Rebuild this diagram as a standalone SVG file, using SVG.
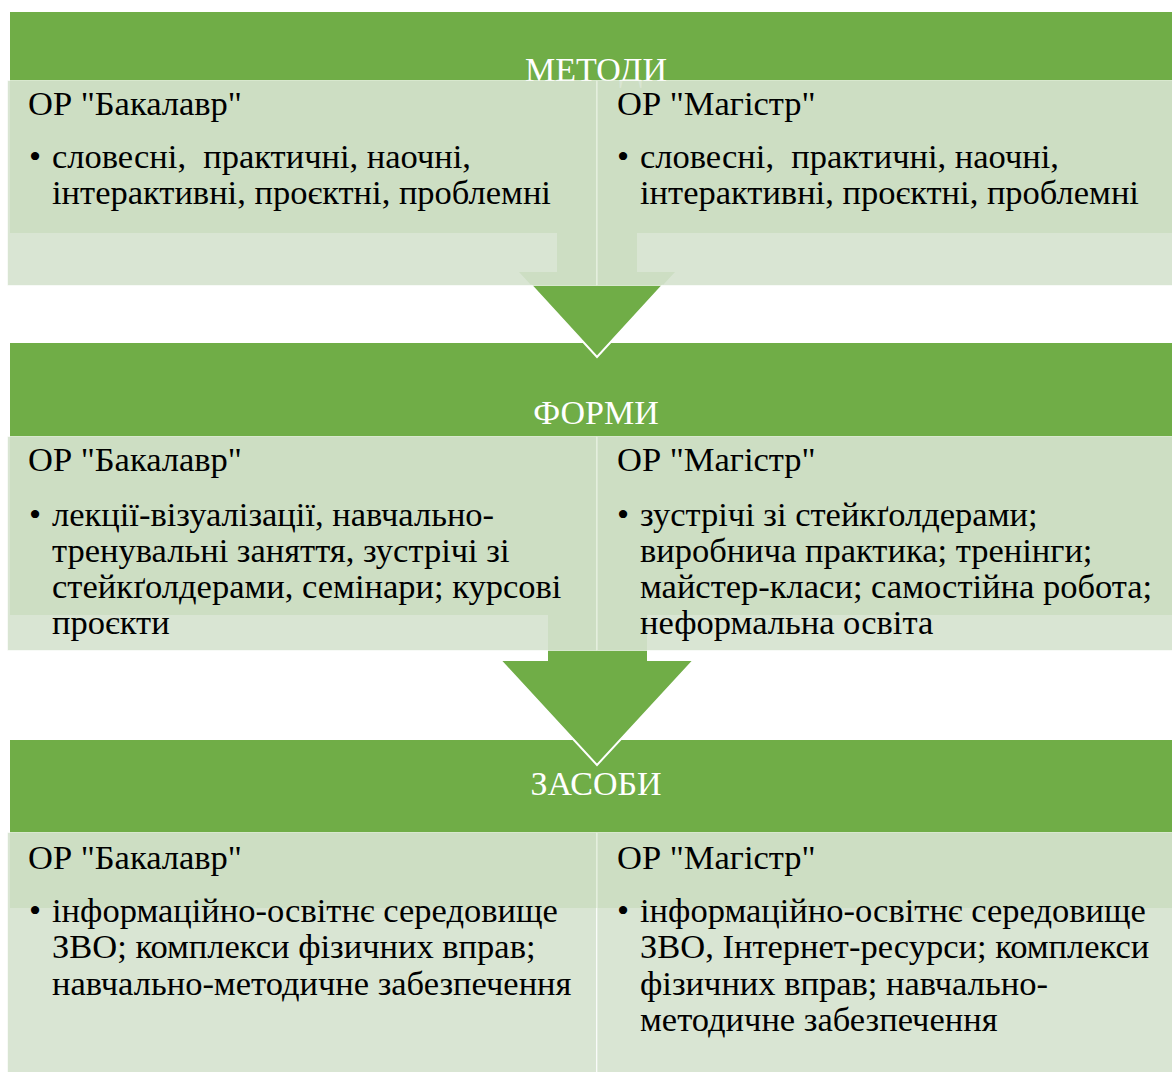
<svg xmlns="http://www.w3.org/2000/svg" width="1172" height="1072" viewBox="0 0 1172 1072">
<style>
.hdr{fill:#70ad47}
.arrow{fill:#70ad47;stroke:none}
.edge{fill:none;stroke:#ffffff;stroke-width:2}
.box{fill:rgb(213,227,207);fill-opacity:0.915;stroke:#ffffff;stroke-opacity:0.6;stroke-width:1}
.title{font-size:34px;fill:#ffffff;text-anchor:middle}
.t{font-size:34.5px;fill:#000000}
</style>
<rect width="1172" height="1072" fill="#ffffff"/>
<g id="headers">
<rect id="h1" class="hdr" x="10" y="12" width="1162" height="221"/>
<rect id="h2" class="hdr" x="10" y="343" width="1162" height="272"/>
<rect id="h3" class="hdr" x="10" y="740" width="1162" height="168"/>
</g>
<g id="connectors">
<polygon class="arrow" points="557,150 637,150 637,272 675,272 597,357 519,272 557,272"/>
<polyline class="edge" points="531,285 597,357 663,285"/>
<polygon class="arrow" points="548,560 647,560 647,661 693,661 597,765 501,661 548,661"/>
<polyline class="edge" points="501,661 597,765 693,661"/>
</g>
<g font-family="'Liberation Serif', 'Times New Roman', serif">
<g id="titles">
<text class="title" x="596" y="81">МЕТОДИ</text>
<text class="title" x="596" y="424">ФОРМИ</text>
<text class="title" x="596" y="795">ЗАСОБИ</text>
</g>
<g id="metody-bak">
<rect class="box" x="7.5" y="80.5" width="589" height="205"/>
<text class="t" x="28" y="115">ОР "Бакалавр"</text>
<text class="t" x="29" y="168">•</text>
<text class="t" x="52" y="168" xml:space="preserve">словесні,  практичні, наочні,</text>
<text class="t" x="52" y="204">інтерактивні, проєктні, проблемні</text>
</g>
<g id="metody-mag">
<rect class="box" x="597" y="80.5" width="580" height="205"/>
<text class="t" x="617" y="115">ОР "Магістр"</text>
<text class="t" x="617" y="168">•</text>
<text class="t" x="640" y="168" xml:space="preserve">словесні,  практичні, наочні,</text>
<text class="t" x="640" y="204">інтерактивні, проєктні, проблемні</text>
</g>
<g id="formy-bak">
<rect class="box" x="7.5" y="436.5" width="589" height="214"/>
<text class="t" x="28" y="471">ОР "Бакалавр"</text>
<text class="t" x="29" y="526">•</text>
<text class="t" x="52" y="526">лекції-візуалізації, навчально-</text>
<text class="t" x="52" y="562">тренувальні заняття, зустрічі зі</text>
<text class="t" x="52" y="598">стейкґолдерами, семінари; курсові</text>
<text class="t" x="52" y="634">проєкти</text>
</g>
<g id="formy-mag">
<rect class="box" x="597" y="436.5" width="580" height="214"/>
<text class="t" x="617" y="471">ОР "Магістр"</text>
<text class="t" x="617" y="526">•</text>
<text class="t" x="640" y="526">зустрічі зі стейкґолдерами;</text>
<text class="t" x="640" y="562">виробнича практика; тренінги;</text>
<text class="t" x="640" y="598">майстер-класи; самостійна робота;</text>
<text class="t" x="640" y="634">неформальна освіта</text>
</g>
<g id="zasoby-bak">
<rect class="box" x="7.5" y="832.5" width="589" height="250"/>
<text class="t" x="28" y="869">ОР "Бакалавр"</text>
<text class="t" x="29" y="922">•</text>
<text class="t" x="52" y="922">інформаційно-освітнє середовище</text>
<text class="t" x="52" y="958">ЗВО; комплекси фізичних вправ;</text>
<text class="t" x="52" y="995">навчально-методичне забезпечення</text>
</g>
<g id="zasoby-mag">
<rect class="box" x="597" y="832.5" width="580" height="250"/>
<text class="t" x="617" y="869">ОР "Магістр"</text>
<text class="t" x="617" y="922">•</text>
<text class="t" x="640" y="922">інформаційно-освітнє середовище</text>
<text class="t" x="640" y="958">ЗВО, Інтернет-ресурси; комплекси</text>
<text class="t" x="640" y="995">фізичних вправ; навчально-</text>
<text class="t" x="640" y="1031">методичне забезпечення</text>
</g>
</g>
</svg>
